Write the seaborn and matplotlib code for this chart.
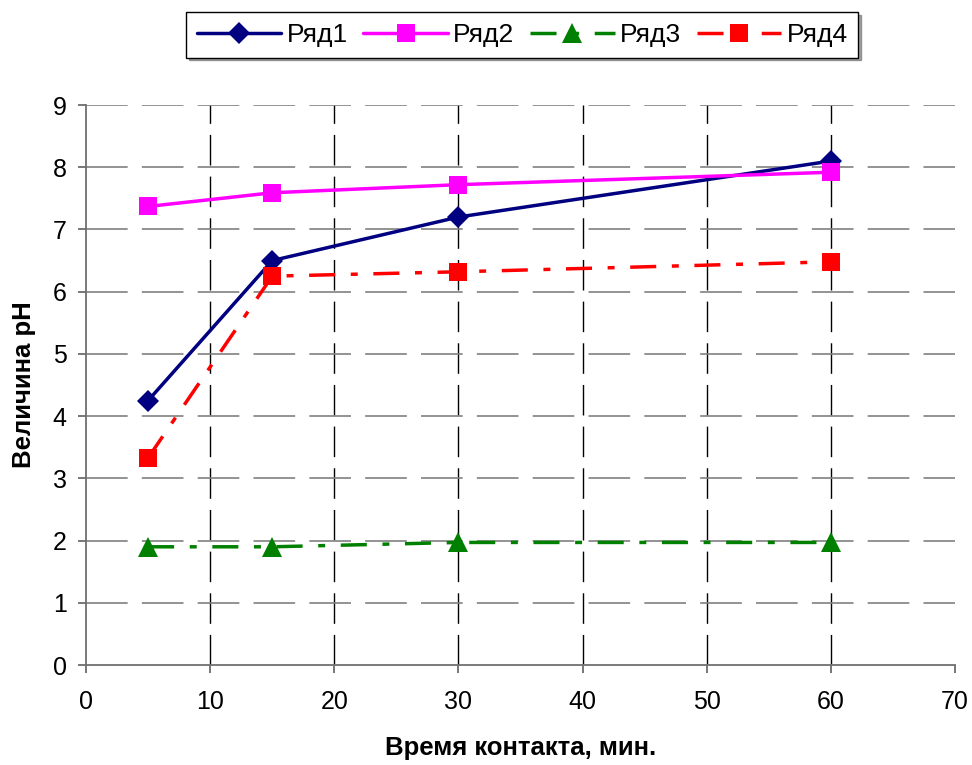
import matplotlib
matplotlib.use("Agg")
import matplotlib.pyplot as plt
import seaborn as sns
import pandas as pd

time_min = [5, 15, 30, 60]
series_names = ["Ряд1", "Ряд2", "Ряд3", "Ряд4"]
ryad1 = [4.25, 6.5, 7.2, 8.1]
ryad2 = [7.37, 7.59, 7.72, 7.92]
ryad3 = [1.9, 1.9, 1.97, 1.97]
ryad4 = [3.33, 6.25, 6.32, 6.48]

sns.set_theme(style="white")
plt.rcParams['font.family'] = ['Liberation Sans', 'DejaVu Sans']
plt.rcParams['text.color'] = 'black'
plt.rcParams['axes.labelcolor'] = 'black'
plt.rcParams['xtick.labelcolor'] = 'black'
plt.rcParams['ytick.labelcolor'] = 'black'

fig = plt.figure(figsize=(9.72, 7.65), dpi=100)
ax = fig.add_axes([0.0885, 0.1307, 0.894, 0.732])

dashdot = (0, (7.5, 4.5, 2, 4.5))
styles = [
    dict(color="#000080", marker="D", ms=11, ls="-"),
    dict(color="#FF00FF", marker="s", ms=13, ls="-"),
    dict(color="#008000", marker="^", ms=14, ls=dashdot),
    dict(color="#FF0000", marker="s", ms=13, ls=dashdot),
]
for name, vals, st in zip(series_names, [ryad1, ryad2, ryad3, ryad4], styles):
    df = pd.DataFrame({"t": time_min, "v": vals})
    sns.lineplot(data=df, x="t", y="v", ax=ax, label=name, color=st["color"],
                 marker=st["marker"], markersize=st["ms"], linestyle=st["ls"],
                 linewidth=2.5, markeredgewidth=0, markeredgecolor=st["color"])

ax.set_xlim(0, 70)
ax.set_ylim(0, 9)
ax.set_xticks(range(0, 71, 10))
ax.set_yticks(range(0, 10))
ax.tick_params(axis="both", labelsize=18, length=6, width=1.2, direction="out",
               color="#606060", labelcolor="black", bottom=True, left=True)
ax.tick_params(axis="x", pad=12)
ax.tick_params(axis="y", pad=8)
ax.grid(True, axis="x", color="black", linestyle=(0, (22, 8)), linewidth=1.0)
ax.grid(True, axis="y", color="#808080", linestyle=(0, (25, 8.5)), linewidth=1.2)
xgl = ax.get_xgridlines()
xgl[-1].set_visible(False)
xgl[0].set_visible(False)
ygl = ax.get_ygridlines()
ygl[0].set_visible(False)
for s in ["top", "right"]:
    ax.spines[s].set_visible(False)
for s in ["left", "bottom"]:
    ax.spines[s].set_color("#707070")
    ax.spines[s].set_linewidth(1.3)
ax.set_xlabel("Время контакта, мин.", fontsize=18.5, fontweight="bold", labelpad=16,
              color="black")
ax.set_ylabel("Величина pH", fontsize=18.5, fontweight="bold", labelpad=12,
              color="black")

leg = ax.legend(ncol=4, loc="center", bbox_to_anchor=(0.502, 1.125), fontsize=19,
                frameon=True, fancybox=False, shadow=True, edgecolor="black",
                handlelength=3.2, columnspacing=0.6, handletextpad=0.2,
                borderpad=0.4, borderaxespad=0)
leg.get_frame().set_linewidth(1.0)
for t in leg.get_texts():
    t.set_color("black")

fig.savefig("out.png", dpi=100)
